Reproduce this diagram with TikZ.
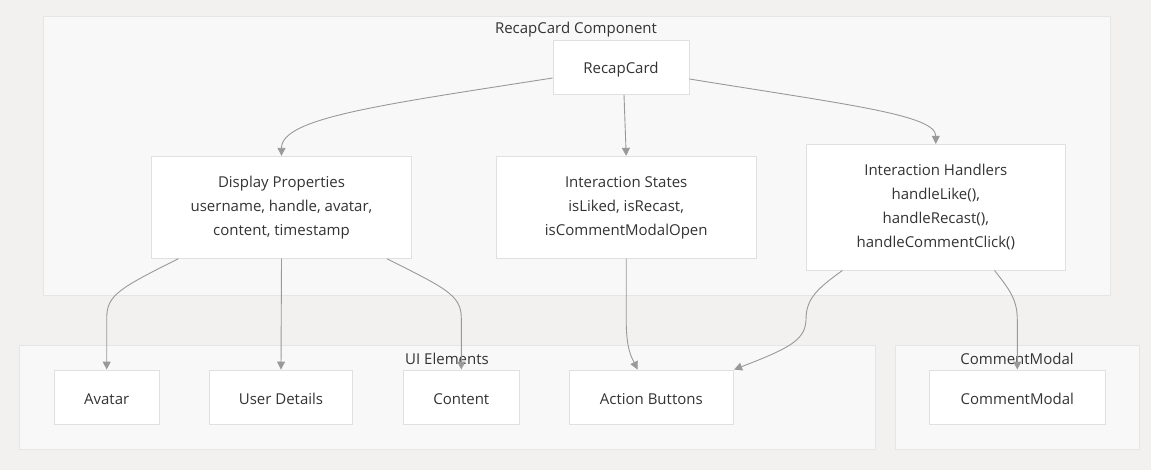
\documentclass[tikz,border=0pt]{standalone}
\usepackage{fontspec}
\setmainfont{Open Sans}
\usetikzlibrary{arrows.meta,calc}
\definecolor{bgc}{RGB}{242,241,240}
\definecolor{clfill}{RGB}{248,248,248}
\definecolor{clline}{RGB}{229,229,229}
\definecolor{ndline}{RGB}{224,224,224}
\definecolor{edgec}{RGB}{153,153,153}
\definecolor{txt}{RGB}{51,51,51}
\tikzset{
  cluster/.style={draw=clline, fill=clfill, line width=0.9pt, inner sep=0pt, anchor=north west},
  cltitle/.style={text=txt, font=\fontsize{15}{18}\selectfont, inner sep=0pt},
  nbox/.style={draw=ndline, fill=white, line width=0.9pt, inner sep=0pt, align=center,
    text=txt, font=\fontsize{15}{24}\selectfont,
    execute at begin node={\rule{0pt}{15pt}}},
  conn/.style={draw=edgec, line width=0.9pt, -{Triangle[length=8pt,width=8pt]}}
}
\begin{document}
\begin{tikzpicture}[x=1pt,y=-1pt]
\useasboundingbox (0,0) rectangle (1151,470);
\fill[bgc] (0,0) rectangle (1151,470);
% clusters
\node[cluster, minimum width=1066.6pt, minimum height=279.3pt] (clrc) at (42.9,15.7) {};
\node[cltitle] (tlrc) at (576,29.5) {RecapCard Component};
\node[cluster, minimum width=856pt, minimum height=103.7pt] (clui) at (19,345.3) {};
\node[cltitle] (tlui) at (447,358.5) {UI Elements};
\node[cluster, minimum width=244.6pt, minimum height=103.7pt] (clcm) at (894.8,345.3) {};
\node[cltitle] (tlcm) at (1017,358.5) {CommentModal};
% nodes
\node[nbox, minimum width=136pt, minimum height=53.6pt] (rc) at (621,67.5) {RecapCard};
\node[nbox, minimum width=260pt, minimum height=102pt] (dp) at (281.5,207.3) {Display Properties\\username, handle, avatar,\\content, timestamp};
\node[nbox, minimum width=259.5pt, minimum height=102pt] (is) at (626.2,207.3) {Interaction States\\isLiked, isRecast,\\isCommentModalOpen};
\node[nbox, minimum width=259.5pt, minimum height=125.7pt] (ih) at (935.8,207.2) {Interaction Handlers\\handleLike(),\\handleRecast(),\\handleCommentClick()};
\node[nbox, minimum width=105pt, minimum height=54pt] (av) at (106.7,397) {Avatar};
\node[nbox, minimum width=143.5pt, minimum height=54pt] (ud) at (281,397) {User Details};
\node[nbox, minimum width=116.7pt, minimum height=54pt] (ct) at (461.3,397) {Content};
\node[nbox, minimum width=164.7pt, minimum height=54pt] (ab) at (651.3,397) {Action Buttons};
\node[nbox, minimum width=175.4pt, minimum height=54pt] (cm) at (1017.3,397) {CommentModal};
% connectors
\draw[conn] (rc.west |- 0,78) .. controls (380,105) and (281.5,118) .. (dp.north);
\draw[conn] ($(rc.south)+(3,0)$) -- (is.north);
\draw[conn] (rc.east |- 0,79) .. controls (850,105) and (935.8,115) .. (ih.north);
\draw[conn] ($(dp.south west)+(27.2,0)$) .. controls (120,288) and (106.7,295) .. (106.7,318) -- (av.north);
\draw[conn] (dp.south) -- (ud.north);
\draw[conn] ($(dp.south east)+(-25,0)$) .. controls (445,288) and (461.3,295) .. (461.3,318) -- (ct.north);
\draw[conn] (is.south) -- (626.2,320) .. controls (626.2,350) and (632,358) .. ($(ab.north west)+(69,0)$);
\draw[conn] ($(ih.south west)+(36.8,0)$) .. controls (815,290) and (806,300) .. (806,320) .. controls (805,340) and (790,348) .. (ab.north east);
\draw[conn] ($(ih.south east)+(-71.5,0)$) .. controls (1010,290) and (1017.3,300) .. (1017.3,320) -- (cm.north);
\end{tikzpicture}
\end{document}
